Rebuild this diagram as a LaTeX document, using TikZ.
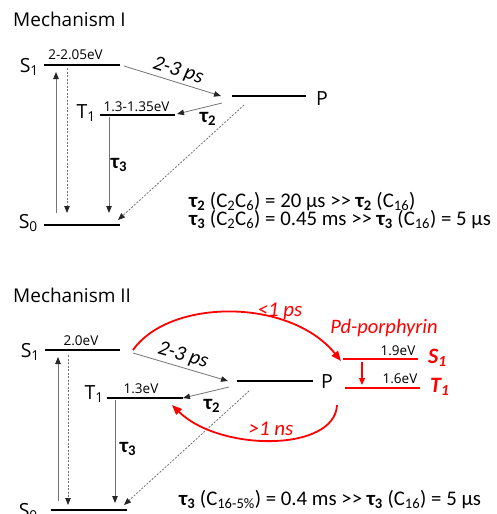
\documentclass[tikz,border=0pt]{standalone}
\usepackage{fontspec}
\setmainfont{Carlito}
\newfontfamily\uifont{Open Sans}
\usetikzlibrary{arrows.meta}
\begin{document}
\begin{tikzpicture}[x=1pt,y=-1pt,
  level/.style={line width=1.8pt},
  redlevel/.style={line width=1.8pt, draw=red},
  garr/.style={draw=black!55, line width=0.8pt, -{Triangle[length=7pt,width=5.5pt,color=black!85]}},
  gdash/.style={garr, dash pattern=on 2pt off 1.5pt},
  rarr/.style={draw=red, line width=1.8pt, -{Triangle[length=10pt,width=8pt]}},
  rsmall/.style={draw=red, line width=1.2pt, -{Triangle[length=7pt,width=6pt]}},
  title/.style={font=\uifont\fontsize{19}{21}\selectfont, inner sep=0pt, anchor=base west},
  big/.style={font=\uifont\fontsize{19.5}{21}\selectfont, inner sep=0pt},
  ev/.style={font=\uifont\fontsize{13.5}{15}\selectfont, inner sep=0pt, anchor=base},
  tau/.style={font=\fontsize{21}{23}\selectfont\bfseries, inner sep=0pt},
  rate/.style={font=\fontsize{21}{23}\selectfont\itshape, inner sep=0pt},
  redrate/.style={rate, text=red},
  redlbl/.style={font=\fontsize{22}{24}\selectfont\bfseries\itshape, inner sep=0pt, text=red, anchor=base west},
  eq/.style={font=\fontsize{20.8}{22}\selectfont, inner sep=0pt, anchor=base west},
]
\useasboundingbox (0,0) rectangle (497,514);

% ---------------- Mechanism I ----------------
\node[title] (m1) at (13,27) {Mechanism I};
\coordinate (AS1a) at (44,65);  \coordinate (AS1b) at (120,65);
\coordinate (AS0a) at (44,225); \coordinate (AS0b) at (120,225);
\coordinate (AT1a) at (100,115); \coordinate (AT1b) at (175,115);
\coordinate (APa) at (232,96);  \coordinate (APb) at (306,96);
\draw[level] (AS1a) -- (AS1b);
\draw[level] (AS0a) -- (AS0b);
\draw[level] (AT1a) -- (AT1b);
\draw[level] (APa) -- (APb);
\node[big, anchor=base east] (aS1) at (39,72) {S\textsubscript{1}};
\node[big, anchor=base east] (aS0) at (38,228) {S\textsubscript{0}};
\node[big, anchor=base east] (aT1) at (96,118) {T\textsubscript{1}};
\node[big, anchor=base west] (aP) at (316,105) {P};
\node[ev] (aE1) at (75.5,59) {2-2.05eV};
\node[ev] (aE2) at (136.5,111) {1.3-1.35eV};

\coordinate (AU0) at (56,213); \coordinate (AU1) at (56,72);
\coordinate (AD0) at (67,68);  \coordinate (AD1) at (67,213);
\coordinate (AT0) at (109,117); \coordinate (AT2) at (109,213);
\coordinate (AX0) at (124,66); \coordinate (AX1) at (221,96);
\coordinate (AY0) at (222,103); \coordinate (AY1) at (177,114);
\coordinate (AZ0) at (244,105); \coordinate (AZ1) at (118,220);
\draw[garr] (AU0) -- (AU1);
\draw[gdash] (AD0) -- (AD1);
\draw[garr] (AT0) -- (AT2);
\draw[garr] (AX0) -- (AX1);
\draw[garr] (AY0) -- (AY1);
\draw[gdash] (AZ0) -- (AZ1);
\node[rate, rotate=-17] (aR) at (178,71) {2-3 ps};
\node[tau] (aTau2) at (208,119) {τ\textsubscript{2}};
\node[tau] (aTau3) at (119,165) {τ\textsubscript{3}};

\node[eq] (aEq1) at (189,207) {\textbf{τ\textsubscript{2}} (C\textsubscript{2}C\textsubscript{6}) = 20 μs >\kern0pt> \textbf{τ\textsubscript{2}} (C\textsubscript{16})};
\node[eq] (aEq2) at (189,225) {\textbf{τ\textsubscript{3}} (C\textsubscript{2}C\textsubscript{6}) = 0.45 ms >\kern0pt> \textbf{τ\textsubscript{3}} (C\textsubscript{16}) = 5 μs};

% ---------------- Mechanism II ----------------
\node[title] (m2) at (13,302) {Mechanism II};
\coordinate (BS1a) at (45,350);  \coordinate (BS1b) at (120,350);
\coordinate (BS0a) at (51,510);  \coordinate (BS0b) at (127,510);
\coordinate (BT1a) at (107,398); \coordinate (BT1b) at (183,398);
\coordinate (BPa) at (237,381);  \coordinate (BPb) at (313,381);
\draw[level] (BS1a) -- (BS1b);
\draw[level] (BS0a) -- (BS0b);
\draw[level] (BT1a) -- (BT1b);
\draw[level] (BPa) -- (BPb);
\node[big, anchor=base east] (bS1) at (40,357) {S\textsubscript{1}};
\node[big, anchor=base east] (bS0) at (38,517) {S\textsubscript{0}};
\node[big, anchor=base east] (bT1) at (104,399) {T\textsubscript{1}};
\node[big, anchor=base west] (bP) at (321,388) {P};
\node[ev] (bE1) at (81,345) {2.0eV};
\node[ev] (bE2) at (141,393) {1.3eV};

\coordinate (BU0) at (58,501); \coordinate (BU1) at (58,357);
\coordinate (BD0) at (68,355); \coordinate (BD1) at (68,505);
\coordinate (BT0) at (115,400); \coordinate (BT2) at (115,503);
\coordinate (BX0) at (133,353); \coordinate (BX1) at (228,381);
\coordinate (BY0) at (229,387); \coordinate (BY1) at (183,398);
\coordinate (BZ0) at (249,391); \coordinate (BZ1) at (124,505);
\draw[garr] (BU0) -- (BU1);
\draw[gdash] (BD0) -- (BD1);
\draw[garr] (BT0) -- (BT2);
\draw[garr] (BX0) -- (BX1);
\draw[garr] (BY0) -- (BY1);
\draw[gdash] (BZ0) -- (BZ1);
\node[rate, rotate=-16] (bR) at (183,356) {2-3 ps};
\node[tau] (bTau2) at (212,406) {τ\textsubscript{2}};
\node[tau] (bTau3) at (128,449) {τ\textsubscript{3}};

% Pd-porphyrin
\coordinate (CS1a) at (343,359); \coordinate (CS1b) at (418,359);
\coordinate (CT1a) at (345,388); \coordinate (CT1b) at (420,388);
\draw[redlevel] (CS1a) -- (CS1b);
\draw[redlevel] (CT1a) -- (CT1b);
\node[ev] (cE1) at (398,355) {1.9eV};
\node[ev] (cE2) at (400,383) {1.6eV};
\node[redlbl] (cS1) at (428,363) {S\textsubscript{1}};
\node[redlbl] (cT1) at (430,392) {T\textsubscript{1}};
\node[font=\fontsize{20.5}{22}\selectfont\itshape, text=red, inner sep=0pt, anchor=base] (cPd) at (384,333) {Pd-porphyrin};
\coordinate (CD0) at (362,362); \coordinate (CD1) at (362,385);
\draw[rsmall] (CD0) -- (CD1);

\coordinate (CR0) at (133,350); \coordinate (CR1) at (341,361);
\coordinate (CR2) at (337,405); \coordinate (CR3) at (172,405);
\draw[rarr] (CR0) .. controls (170,298) and (290,298) .. (CR1);
\draw[rarr] (CR2) .. controls (335,452) and (220,452) .. (CR3);
\node[redrate] (cR1) at (280,311) {<1 ps};
\node[redrate] (cR2) at (271,429) {>1 ns};

\node[eq] (bEq) at (179,505) {\textbf{τ\textsubscript{3}} (C\textsubscript{16-5\%}) = 0.4 ms >\kern0pt> \textbf{τ\textsubscript{3}} (C\textsubscript{16}) = 5 μs};
\end{tikzpicture}
\end{document}
